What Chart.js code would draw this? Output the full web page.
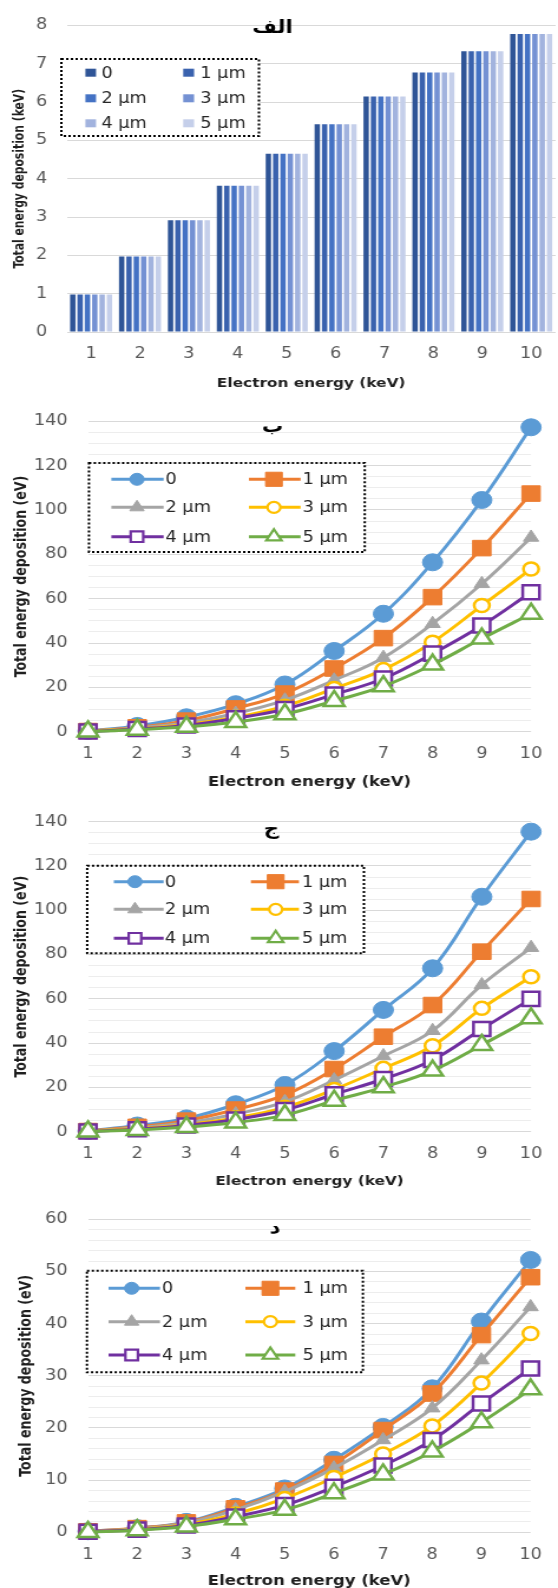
<!DOCTYPE html>
<html><head><meta charset="utf-8">
<script src="https://cdn.jsdelivr.net/npm/chart.js@4.4.1/dist/chart.umd.min.js"></script>
<style>
html,body{margin:0;padding:0;background:#fff;overflow:hidden;}
#wrap{width:558px;height:1588px;overflow:hidden;position:relative;}
canvas{display:block;}
</style></head><body><div id="wrap">
<canvas id="c1" width="473" height="395" style="width:558px;height:395px"></canvas>
<canvas id="c2" width="473" height="400" style="width:558px;height:400px"></canvas>
<canvas id="c3" width="473" height="396" style="width:558px;height:396px"></canvas>
<canvas id="c4" width="473" height="404" style="width:558px;height:404px"></canvas>
</div>
<script>
// ---------- DATA ----------
const energyLabels = ['1','2','3','4','5','6','7','8','9','10'];
const thicknessLabels = ['0','1 µm','2 µm','3 µm','4 µm','5 µm'];
const panelTitles = ['الف','ب','ج','د'];
const xAxisTitle = 'Electron energy (keV)';
const yAxisTitleKeV = 'Total energy deposition (keV)';
const yAxisTitleEV = 'Total energy deposition (eV)';

// Panel الف (keV), bars
const alef_0um = [0.98, 1.97, 2.92, 3.82, 4.65, 5.42, 6.15, 6.77, 7.33, 7.78];
const alef_1um = [0.98, 1.97, 2.92, 3.82, 4.65, 5.42, 6.15, 6.77, 7.33, 7.78];
const alef_2um = [0.98, 1.97, 2.92, 3.82, 4.65, 5.42, 6.15, 6.77, 7.33, 7.78];
const alef_3um = [0.98, 1.97, 2.92, 3.82, 4.65, 5.42, 6.15, 6.77, 7.33, 7.78];
const alef_4um = [0.98, 1.97, 2.92, 3.82, 4.65, 5.42, 6.15, 6.77, 7.33, 7.78];
const alef_5um = [0.98, 1.97, 2.92, 3.82, 4.65, 5.42, 6.15, 6.77, 7.33, 7.78];

// Panel ب (eV)
const be_0um = [0.3, 2.6, 6.5, 12.4, 21.3, 36.4, 53.2, 76.4, 104.5, 137.3];
const be_1um = [0.3, 2.0, 5.0, 10.5, 17.2, 28.5, 42.2, 60.7, 82.8, 107.4];
const be_2um = [0.2, 1.7, 4.0, 8.2, 14.2, 23.2, 33.4, 48.7, 66.7, 87.6];
const be_3um = [0.2, 1.4, 3.3, 6.5, 11.5, 19.5, 28.0, 40.4, 56.9, 73.4];
const be_4um = [0.1, 1.2, 2.8, 6.0, 10.2, 16.8, 24.0, 35.2, 47.9, 62.9];
const be_5um = [0.1, 0.9, 2.2, 4.4, 7.9, 13.9, 20.5, 30.3, 42.0, 53.2];

// Panel ج (eV)
const jim_0um = [0.3, 2.8, 6.0, 12.4, 21.1, 36.4, 55.0, 73.8, 106.1, 135.5];
const jim_1um = [0.3, 2.2, 5.0, 10.0, 16.6, 28.3, 42.9, 57.2, 81.3, 105.1];
const jim_2um = [0.2, 1.8, 4.0, 8.0, 13.5, 23.3, 34.2, 45.6, 66.3, 83.1];
const jim_3um = [0.2, 1.4, 3.2, 6.3, 11.0, 19.1, 28.6, 38.8, 55.7, 70.0];
const jim_4um = [0.1, 1.1, 2.8, 5.5, 9.8, 16.9, 23.8, 32.4, 46.4, 60.0];
const jim_5um = [0.1, 0.8, 2.1, 4.2, 7.5, 14.0, 20.1, 27.6, 39.2, 51.2];

// Panel د (eV)
const dal_0um = [0.2, 0.8, 2.0, 4.9, 8.4, 13.9, 20.2, 27.6, 40.4, 52.2];
const dal_1um = [0.2, 0.8, 1.9, 4.6, 8.0, 13.1, 19.6, 26.6, 37.8, 48.9];
const dal_2um = [0.2, 0.7, 1.8, 4.3, 7.8, 12.3, 17.7, 23.8, 33.0, 43.2];
const dal_3um = [0.1, 0.6, 1.5, 3.5, 6.5, 10.5, 15.0, 20.4, 28.6, 38.1];
const dal_4um = [0.1, 0.5, 1.3, 3.0, 5.2, 8.7, 12.8, 17.7, 24.7, 31.4];
const dal_5um = [0.05, 0.4, 1.1, 2.5, 4.3, 7.5, 11.1, 15.5, 21.1, 27.4];

// ---------- STYLES ----------
const barColors = ['#2F5597','#3A62AE','#4472C4','#7491D3','#A2B3DE','#C5CFEA'];
const lineColors = ['#5B9BD5','#ED7D31','#A5A5A5','#FFC000','#7030A0','#70AD47'];
const markerShapes = ['circle','rect','triangle','circle','rect','triangle'];
const markerFilled = [true,true,true,false,false,false];
const markerRadius = [8.5,11,7.5,6.5,10,10];
const legendRadius = [6,10,7,5.5,7.5,7.5];
const tickColor = '#595959';
const titleColor = '#1F1F1F';
const gridMajor = '#D9D9D9';
const gridMinor = '#EDEDED';

function drawMarker(ctx, shape, r, x, y, fill, stroke, bw) {
  ctx.beginPath();
  if (shape === 'circle') ctx.arc(x, y, r, 0, Math.PI * 2);
  else if (shape === 'rect') { const s = Math.SQRT1_2 * r; ctx.rect(x - s, y - s, 2 * s, 2 * s); }
  else { ctx.moveTo(x, y - r); ctx.lineTo(x + 0.866 * r, y + 0.5 * r); ctx.lineTo(x - 0.866 * r, y + 0.5 * r); ctx.closePath(); }
  ctx.fillStyle = fill; ctx.fill();
  ctx.lineWidth = bw; ctx.strokeStyle = stroke; ctx.stroke();
}

const panelPlugin = {
  id: 'panelDeco',
  afterDraw(chart, args, opts) {
    const ctx = chart.ctx;
    ctx.save();
    const [bx1, by1, bx2, by2] = opts.box;
    ctx.fillStyle = '#FFFFFF';
    ctx.fillRect(bx1, by1, bx2 - bx1, by2 - by1);
    ctx.setLineDash([2, 2]);
    ctx.lineWidth = 2;
    ctx.strokeStyle = '#000000';
    ctx.strokeRect(bx1, by1, bx2 - bx1, by2 - by1);
    ctx.setLineDash([]);
    chart.data.datasets.forEach((ds, i) => {
      const row = Math.floor(i / 2), col = i % 2;
      const y = opts.rows[row];
      const c = opts.cols[col];
      if (opts.kind === 'bar') {
        ctx.fillStyle = ds.backgroundColor;
        ctx.fillRect(c.m1, y - 4, c.m2 - c.m1, 8);
      } else {
        ctx.beginPath();
        ctx.moveTo(c.l1, y); ctx.lineTo(c.l2, y);
        ctx.lineWidth = 3; ctx.strokeStyle = ds.borderColor; ctx.stroke();
        drawMarker(ctx, markerShapes[i], legendRadius[i], c.m, y,
          markerFilled[i] ? lineColors[i] : '#FFFFFF', lineColors[i], markerFilled[i] ? 1 : 2.2);
      }
      ctx.fillStyle = '#262626';
      ctx.font = opts.legendFont;
      ctx.textAlign = 'left';
      ctx.textBaseline = 'middle';
      ctx.fillText(ds.label, c.t, y + 1);
    });
    ctx.font = 'bold 18px "DejaVu Sans"';
    ctx.fillStyle = '#000000';
    ctx.textAlign = 'center';
    ctx.textBaseline = 'alphabetic';
    ctx.fillText(opts.title, opts.tx, opts.ty);
    ctx.restore();
  }
};

function commonScales(o) {
  return {
    x: {
      offset: o.offset,
      grid: { display: false, drawTicks: false },
      border: { display: false },
      ticks: { color: tickColor, font: { family: 'DejaVu Sans', size: 15 }, padding: o.xTickPad, maxRotation: 0, autoSkip: false },
      title: { display: true, text: xAxisTitle, color: titleColor, font: { family: 'DejaVu Sans', weight: 'bold', size: o.xTitleSize }, padding: { top: 0, bottom: o.xTitlePad } },
      afterFit: s => { s.height = o.xHeight; }
    },
    y: {
      min: 0, max: o.yMax,
      grid: { drawTicks: false, lineWidth: 1, color: c => (c.tick && Math.abs(c.tick.value % o.yLabelStep) < 1e-9) ? gridMajor : gridMinor },
      border: { display: false },
      ticks: { stepSize: o.yStep, autoSkip: false, color: tickColor, font: { family: 'DejaVu Sans', size: 15 }, padding: o.yTickPad,
        callback: v => (Math.abs(v % o.yLabelStep) < 1e-9 ? String(v) : '') },
      title: { display: true, text: o.yTitle, color: titleColor, font: { family: "'DejaVu Sans Condensed', 'DejaVu Sans'", weight: 'bold', size: o.yTitleSize }, padding: { top: o.yTitlePad, bottom: 0 } },
      afterFit: s => { s.width = o.yWidth; }
    }
  };
}

function lineDatasets(series) {
  return series.map((d, i) => ({
    label: thicknessLabels[i], data: d,
    borderColor: lineColors[i], backgroundColor: lineColors[i], borderWidth: 3,
    tension: 0.4, pointStyle: markerShapes[i], pointRadius: markerRadius[i], pointHoverRadius: markerRadius[i],
    pointBackgroundColor: markerFilled[i] ? lineColors[i] : '#FFFFFF', pointBorderColor: lineColors[i],
    pointBorderWidth: markerFilled[i] ? 1 : 2.5, order: 6 - i, clip: false
  }));
}

const baseOpts = { responsive: false, animation: false, devicePixelRatio: 1, events: [] };

// Panel الف
new Chart(document.getElementById('c1'), {
  type: 'bar',
  data: { labels: energyLabels, datasets: [alef_0um, alef_1um, alef_2um, alef_3um, alef_4um, alef_5um].map((d, i) => ({
    label: thicknessLabels[i], data: d, backgroundColor: barColors[i], borderWidth: 0,
    categoryPercentage: 0.9, barPercentage: 0.73 })) },
  options: Object.assign({}, baseOpts, {
    layout: { padding: { top: 21, right: 2, left: 0, bottom: 0 } },
    plugins: { legend: { display: false }, tooltip: { enabled: false },
      panelDeco: { kind: 'bar', title: panelTitles[0], tx: 231, ty: 33, box: [52, 59, 219.5, 136], rows: [72.7, 98.3, 123.3],
        cols: [{ m1: 72.4, m2: 81.4, t: 85.9 }, { m1: 155.3, m2: 164.5, t: 169.8 }], legendFont: '15px "DejaVu Sans"' } },
    scales: commonScales({ offset: true, xTickPad: 13, xTitleSize: 13, xTitlePad: 4, xHeight: 63, yMax: 8, yStep: 1, yLabelStep: 1,
      yTickPad: 16.5, yTitle: yAxisTitleKeV, yTitleSize: 12, yTitlePad: 10, yWidth: 56.5 })
  }),
  plugins: [panelPlugin]
});

function lineChart(id, series, o) {
  new Chart(document.getElementById(id), {
    type: 'line',
    data: { labels: energyLabels, datasets: lineDatasets(series) },
    options: Object.assign({}, baseOpts, {
      layout: { padding: { top: o.top, right: 20.5, left: 0, bottom: 0 } },
      plugins: { legend: { display: false }, tooltip: { enabled: false },
        panelDeco: { kind: 'line', title: o.title, tx: o.tx, ty: o.ty, box: o.box, rows: o.rows, cols: o.cols, legendFont: '15px "DejaVu Sans"' } },
      scales: commonScales({ offset: false, xTickPad: o.xTickPad, xTitleSize: o.xTitleSize, xTitlePad: o.xTitlePad, xHeight: o.xHeight,
        yMax: o.yMax, yStep: o.yStep, yLabelStep: o.yLabelStep, yTickPad: 17.3, yTitle: yAxisTitleEV, yTitleSize: 14, yTitlePad: o.yTitlePad, yWidth: 74.6 })
    }),
    plugins: [panelPlugin]
  });
}

lineChart('c2', [be_0um, be_1um, be_2um, be_3um, be_4um, be_5um], {
  top: 25, xHeight: 63.3, xTickPad: 13.3, xTitleSize: 14, xTitlePad: 4.6, yMax: 140, yStep: 5, yLabelStep: 20, yTitlePad: 10.2,
  title: panelTitles[1], tx: 231, ty: 37, box: [75.4, 68, 309.2, 157], rows: [84.3, 112.3, 141.7],
  cols: [{ l1: 94.4, l2: 138.7, m: 116.1, t: 140.3 }, { l1: 211, l2: 254.8, m: 232.2, t: 256.4 }]
});

lineChart('c3', [jim_0um, jim_1um, jim_2um, jim_3um, jim_4um, jim_5um], {
  top: 26.7, xHeight: 59.3, xTickPad: 13.3, xTitleSize: 13, xTitlePad: 1.5, yMax: 140, yStep: 5, yLabelStep: 20, yTitlePad: 10.2,
  title: panelTitles[2], tx: 230, ty: 39, box: [73.9, 70.7, 308.5, 158.3], rows: [86.7, 114.3, 143.3],
  cols: [{ l1: 96.5, l2: 138.7, m: 114.4, t: 139.7 }, { l1: 212.7, l2: 253.4, m: 233.7, t: 256 }]
});

lineChart('c4', [dal_0um, dal_1um, dal_2um, dal_3um, dal_4um, dal_5um], {
  top: 28.3, xHeight: 62.7, xTickPad: 13.7, xTitleSize: 14, xTitlePad: 4.9, yMax: 60, yStep: 2, yLabelStep: 10, yTitlePad: 13.6,
  title: panelTitles[3], tx: 233, ty: 42, box: [73.7, 79.7, 307.6, 181.3], rows: [97.3, 130.7, 164],
  cols: [{ l1: 92, l2: 135.6, m: 111.6, t: 137.3 }, { l1: 208, l2: 250.3, m: 229.2, t: 256.4 }]
});
</script>
</body></html>
